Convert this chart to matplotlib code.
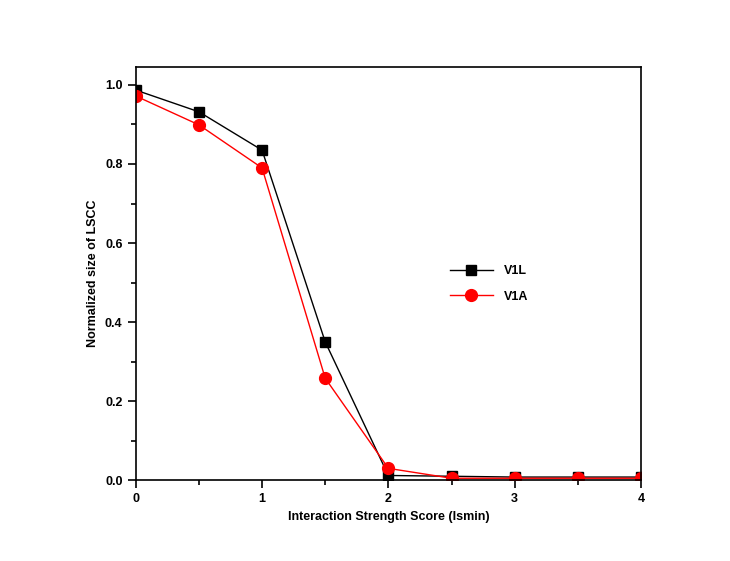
import matplotlib
matplotlib.use("Agg")
import matplotlib.pyplot as plt
from matplotlib.ticker import MultipleLocator

# Interaction strength score thresholds
ismin = [0, 0.5, 1.0, 1.5, 2.0, 2.5, 3.0, 3.5, 4.0]
v1l = [0.987, 0.932, 0.835, 0.350, 0.012, 0.010, 0.008, 0.008, 0.008]
v1a = [0.972, 0.899, 0.790, 0.258, 0.030, 0.005, 0.005, 0.005, 0.005]

plt.rcParams["font.family"] = ["Liberation Sans", "DejaVu Sans"]
plt.rcParams["font.weight"] = "bold"

fig = plt.figure(figsize=(7.3, 5.61), dpi=100)
ax = fig.add_axes([0.186, 0.144, 0.692, 0.737])

ax.plot(ismin, v1l, color="black", lw=1, marker="s", ms=7.5, label="V1L")
ax.plot(ismin, v1a, color="red", lw=1, marker="o", ms=8.5, label="V1A")

ax.set_xlim(0, 4)
ax.set_ylim(0, 1.046)
ax.xaxis.set_major_locator(MultipleLocator(1))
ax.xaxis.set_minor_locator(MultipleLocator(0.5))
ax.yaxis.set_major_locator(MultipleLocator(0.2))
ax.yaxis.set_minor_locator(MultipleLocator(0.1))
ax.tick_params(which="major", direction="out", length=6, width=1.2, labelsize=9)
ax.tick_params(which="minor", direction="out", length=3.5, width=1.2)
for s in ax.spines.values():
    s.set_linewidth(1.2)

ax.set_xlabel("Interaction Strength Score (Ismin)", fontsize=9, fontweight="bold")
ax.set_ylabel("Normalized size of LSCC", fontsize=9, fontweight="bold")

ax.legend(loc="center left", bbox_to_anchor=(0.6, 0.475), frameon=False,
          fontsize=9, handlelength=3.4, handletextpad=0.9, labelspacing=1.1)

fig.savefig("out.png", dpi=100)
